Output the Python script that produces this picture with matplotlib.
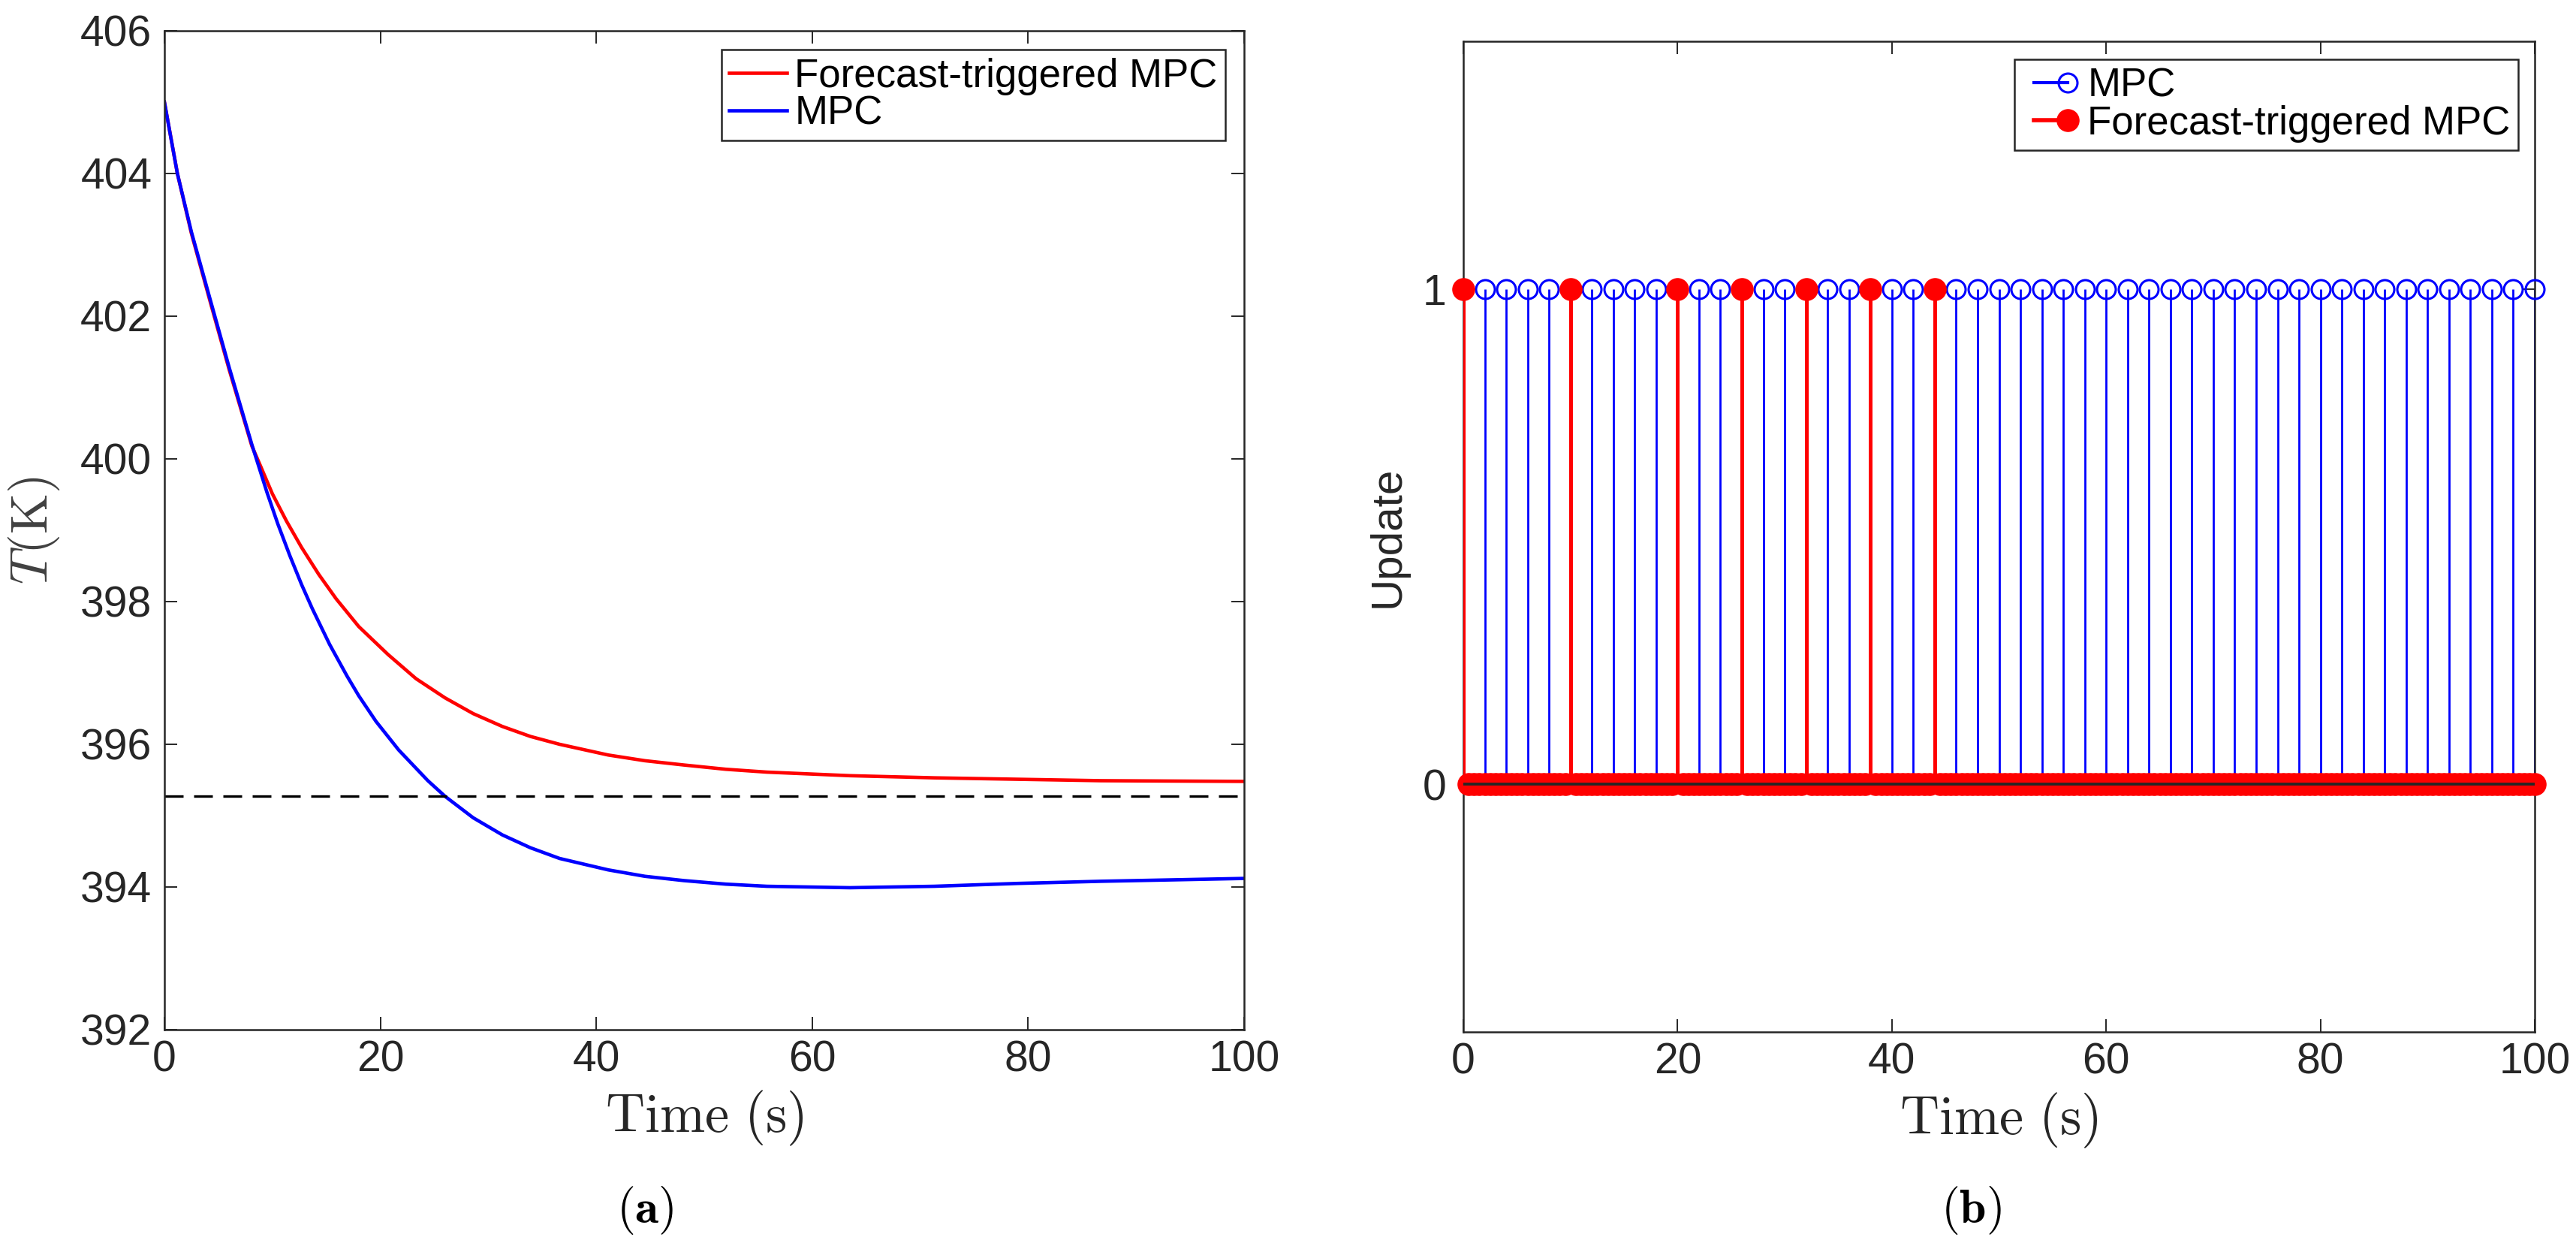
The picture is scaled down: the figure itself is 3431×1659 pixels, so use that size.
import numpy as np
import matplotlib
matplotlib.use("Agg")
from matplotlib import pyplot as plt
from matplotlib.lines import Line2D
from matplotlib.legend_handler import HandlerLine2D

plt.rcParams['font.family'] = ['Liberation Sans', 'DejaVu Sans']
plt.rcParams['mathtext.fontset'] = 'cm'

# --- (a) temperature trajectories ---
t_mpc = [0, 1.2, 2.5, 4.3, 6, 8.1, 9.5, 10.5, 11.6, 12.7, 13.7, 15.3, 16.9, 18, 19.6,
         21.7, 24.4, 26, 28.6, 31.3, 33.9, 36.6, 41.1, 44.5, 48.1, 52, 55.8, 63.5,
         71.3, 79, 86.7, 100]
T_mpc = [405.0, 404.0, 403.18, 402.2, 401.28, 400.2, 399.53, 399.09, 398.65, 398.24,
         397.90, 397.40, 396.96, 396.68, 396.32, 395.92, 395.49, 395.27, 394.97, 394.73,
         394.55, 394.40, 394.24, 394.15, 394.09, 394.04, 394.01, 393.99, 394.01, 394.05,
         394.08, 394.12]

t_ft = [0, 1.2, 2.5, 4.3, 6, 8.1, 8.9, 10, 11.3, 12.7, 14.3, 15.9, 18, 20.7, 23.3, 26,
        28.6, 31.3, 33.9, 36.6, 41.1, 44.5, 48.1, 52, 55.8, 63.5, 71.3, 79, 86.7, 100]
T_ft = [405.0, 404.0, 403.16, 402.17, 401.25, 400.18, 399.90, 399.51, 399.13, 398.76,
        398.38, 398.04, 397.65, 397.26, 396.92, 396.65, 396.43, 396.25, 396.11, 396.0,
        395.85, 395.77, 395.71, 395.65, 395.61, 395.56, 395.53, 395.51, 395.49, 395.48]

T_ref = 395.27

# --- (b) update instants ---
t_mpc_steps = np.arange(0, 101, 2)          # MPC updates every 2 s
upd_mpc = np.ones(len(t_mpc_steps))
t_ft_steps = np.arange(0, 100.5, 0.5)       # event checks
ft_triggers = [0, 10, 20, 26, 32, 38, 44]
upd_ft = np.isin(t_ft_steps, ft_triggers).astype(float)

W, H = 3431, 1659
fig = plt.figure(figsize=(W / 100, H / 100), dpi=100)
axcol = '#262626'


class StemHandler(HandlerLine2D):
    # line with the marker only at its right end, like MATLAB stem legends
    def create_artists(self, *args, **kwargs):
        arts = super().create_artists(*args, **kwargs)
        for a in arts:
            a.set_markevery([1])
        return arts


def style_axes(ax):
    for s in ax.spines.values():
        s.set_linewidth(1.8)
        s.set_color(axcol)
    ax.tick_params(direction='in', top=True, right=True, length=12, width=1.4,
                   colors=axcol, labelsize=41)
    ax.tick_params(axis='x', pad=10)
    ax.tick_params(axis='y', pad=12)


# left panel
ax1 = fig.add_axes([219 / W, 1 - 1371 / H, 1438 / W, 1330 / H])
ax1.plot(t_ft, T_ft, color='red', lw=3.3, label='Forecast-triggered MPC')
ax1.plot(t_mpc, T_mpc, color='blue', lw=3.3, label='MPC')
ax1.axhline(T_ref, color='black', lw=2.4, dashes=(7.5, 4.2))
ax1.set_xlim(0, 100)
ax1.set_ylim(392, 406)
ax1.set_xticks(range(0, 101, 20))
ax1.set_yticks(range(392, 407, 2))
style_axes(ax1)
ax1.set_xlabel(r'$\mathrm{Time\ (s)}$', fontsize=52, color=axcol, labelpad=8)
ax1.set_ylabel(r'$T(\mathrm{K})$', fontsize=50, color='#404040', labelpad=18)
leg1 = ax1.legend(loc='upper right', bbox_to_anchor=(0.9826, 0.9812), fontsize=38,
                  frameon=True, fancybox=False, framealpha=1, edgecolor=axcol,
                  borderpad=0.2, labelspacing=0.0, handlelength=1.45,
                  handletextpad=0.2, borderaxespad=0)
leg1.get_frame().set_linewidth(1.8)

# right panel
ax2 = fig.add_axes([1949 / W, 1 - 1374 / H, 1427 / W, 1319 / H])
sc_b = ax2.stem(t_mpc_steps, upd_mpc, linefmt='b-', markerfmt='bo', basefmt=' ')
sc_b.markerline.set_markerfacecolor('none')
sc_b.markerline.set_markersize(18)
sc_b.markerline.set_markeredgewidth(2.2)
sc_b.markerline.set_clip_on(False)
sc_b.stemlines.set_linewidth(2.0)
sc_b.markerline.set_zorder(3)

sc_r = ax2.stem(t_ft_steps, upd_ft, linefmt='r-', markerfmt='ro', basefmt=' ')
sc_r.markerline.set_markersize(21)
sc_r.markerline.set_clip_on(False)
sc_r.markerline.set_zorder(4)
sc_r.stemlines.set_linewidth(3.6)
sc_r.stemlines.set_zorder(4)

ax2.axhline(0, color=axcol, lw=2.7, zorder=6)
ax2.set_xlim(0, 100)
ax2.set_ylim(-0.5, 1.5)
ax2.set_xticks(range(0, 101, 20))
ax2.set_yticks([0, 1])
style_axes(ax2)
ax2.tick_params(axis='y', pad=16)
ax2.set_xlabel(r'$\mathrm{Time\ (s)}$', fontsize=52, color=axcol, labelpad=8)
ax2.set_ylabel('Update', fontsize=42, color=axcol, labelpad=14)

h_b = Line2D([], [], color='blue', lw=3.0, marker='o', mfc='none', mec='blue',
             ms=18, mew=2.2)
h_r = Line2D([], [], color='red', lw=4.0, marker='o', ms=21)
leg2 = ax2.legend([h_b, h_r], ['MPC', 'Forecast-triggered MPC'], loc='upper right',
                  bbox_to_anchor=(0.9846, 0.9818), fontsize=38, numpoints=2,
                  handler_map={h_b: StemHandler(), h_r: StemHandler()},
                  frameon=True, fancybox=False, framealpha=1, edgecolor=axcol,
                  borderpad=0.2, labelspacing=0.0, handlelength=1.45,
                  handletextpad=0.2, borderaxespad=0)
leg2.get_frame().set_linewidth(1.8)

fig.text(859 / W, 1 - 1612 / H, r'$(\mathbf{a})$', ha='center', va='center', fontsize=46)
fig.text(2625 / W, 1 - 1612 / H, r'$(\mathbf{b})$', ha='center', va='center', fontsize=46)

fig.savefig('out.png', dpi=100)
